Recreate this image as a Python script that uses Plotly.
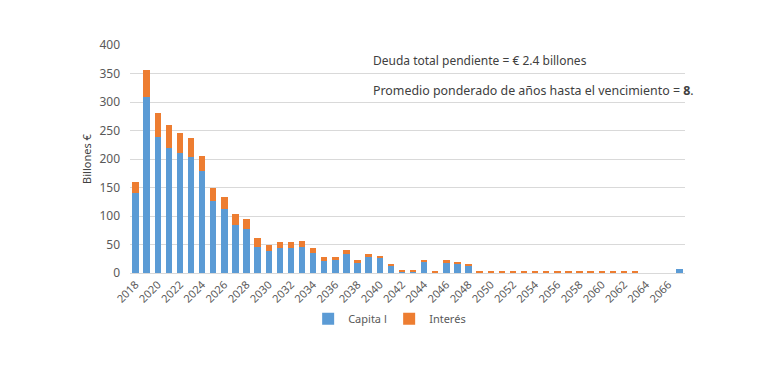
import plotly.graph_objects as go

years = [str(y) for y in range(2018, 2068)]
capital = [140, 308, 238, 219, 210, 204, 179, 127, 112, 85, 78, 46, 38, 43, 44, 45.5, 35, 21, 23, 33, 17, 28, 26, 12, 3, 3, 19, 0,
           19, 17, 13.5, 0, 0, 0, 0, 0, 0, 0, 0, 0, 0, 0, 0, 0, 0, 0, 0, 0, 0, 7]
interes = [19, 48, 42, 41, 36, 33, 27, 23, 22, 18, 16, 15, 12, 11, 11, 11, 9, 7, 5, 7, 6, 6, 4.5, 3.5, 1, 1, 4, 2,
           3, 2.5, 2.5, 1.8, 1.8, 1.8, 1.8, 1.8, 1.8, 1.8, 1.8, 1.8, 1.8, 1.8, 1.8, 1.8, 1.8, 1.8, 0, 0, 0, 0]
tick_labels = [str(y) for y in range(2018, 2067, 2)]
y_ticks = [0, 50, 100, 150, 200, 250, 300, 350, 400]

font_family = "Noto Sans, Open Sans, sans-serif"

fig = go.Figure()
fig.add_trace(go.Bar(x=years, y=capital, name="Capita l", marker=dict(color="#5B9BD5", line=dict(width=0))))
fig.add_trace(go.Bar(x=years, y=interes, name="Interés", marker=dict(color="#ED7D31", line=dict(width=0))))

fig.update_layout(
    barmode="stack",
    bargap=0.42,
    width=770, height=367,
    margin=dict(l=122, r=93, t=37, b=102, autoexpand=False),
    paper_bgcolor="white", plot_bgcolor="white",
    font=dict(family=font_family, color="#595959", size=11),
    showlegend=True,
    legend=dict(orientation="h", x=0.321, xanchor="left", y=-0.137, yanchor="top",
                font=dict(size=11, color="#595959"), entrywidth=36, entrywidthmode="pixels",
                itemwidth=30, traceorder="normal"),
    xaxis=dict(type="category", tickmode="array", tickvals=tick_labels, ticktext=tick_labels,
               tickangle=-45, showgrid=False, showline=True, linecolor="#d9d9d9", linewidth=1,
               ticks="", automargin=False, tickfont=dict(size=11, color="#595959")),
    yaxis=dict(range=[0, 400], tickvals=y_ticks, showgrid=True, gridcolor="#d9d9d9", gridwidth=1,
               zeroline=False, showline=False, ticks="", automargin=False, ticklabelstandoff=9,
               tickfont=dict(size=12, color="#595959"),
               title=dict(text="Billones €", font=dict(size=11, color="#404040"), standoff=5)),
    annotations=[
        dict(text="Deuda total pendiente = € 2.4 billones", xref="paper", yref="paper",
             x=0.434, y=0.93, xanchor="left", yanchor="middle", showarrow=False,
             font=dict(size=12, color="#404040")),
        dict(text="Promedio ponderado de años hasta el vencimiento = <b>8</b>.", xref="paper", yref="paper",
             x=0.434, y=0.80, xanchor="left", yanchor="middle", showarrow=False,
             font=dict(size=12.4, color="#404040")),
    ],
)

fig.write_html("out.html")
